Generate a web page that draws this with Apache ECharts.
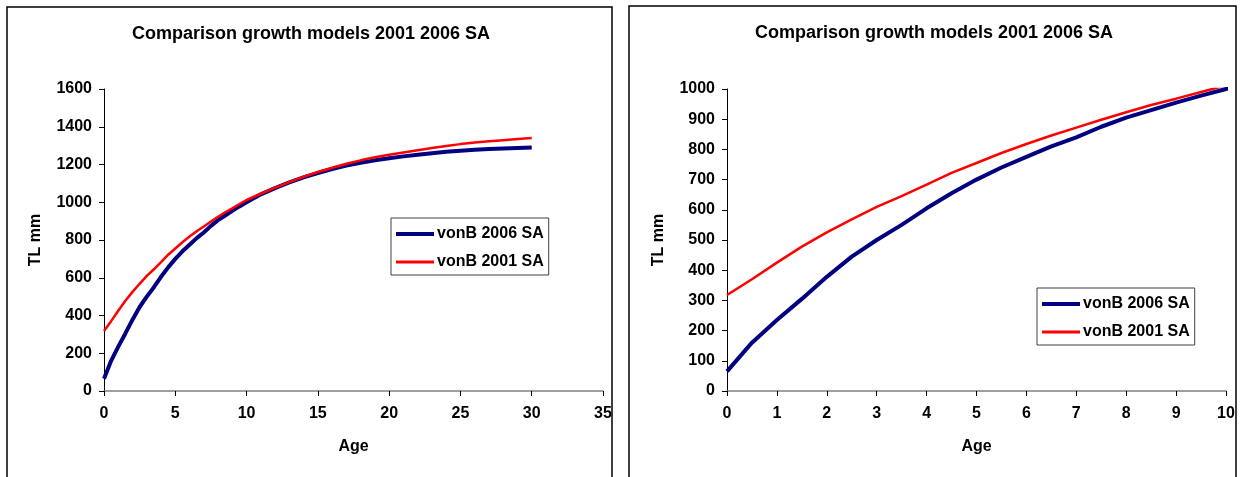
<!DOCTYPE html>
<html>
<head>
<meta charset="utf-8">
<script src="https://cdn.jsdelivr.net/npm/echarts@6/dist/echarts.min.js"></script>
<style>
html,body{margin:0;padding:0;background:#fff;}
#c{width:1242px;height:477px;}
</style>
</head>
<body>
<div id="c"></div>
<script>
var titleText = "Comparison growth models 2001 2006 SA";
var seriesNames = ["vonB 2006 SA", "vonB 2001 SA"];
var ages = [0,0.5,1,1.5,2,2.5,3,3.5,4,4.5,5,5.5,6,6.5,7,7.5,8,8.5,9,9.5,10,
  11,12,13,14,15,16,17,18,19,20,21,22,23,24,25,26,27,28,29,30];
var vonB2006 = [65,160,235,305,378,445,500,550,605,655,700,740,775,810,840,875,905,930,955,978,1000,
  1042,1075,1105,1132,1155,1176,1194,1209,1222,1233,1243,1252,1260,1267,1273,1278,1282,1285,1288,1290];
var vonB2001 = [318,370,425,478,525,568,610,645,683,722,755,788,818,846,872,898,923,947,968,990,1012,
  1045,1077,1107,1135,1160,1183,1204,1222,1238,1252,1264,1276,1287,1298,1308,1316,1323,1329,1335,1340];
var leftXTicks = {min:0, max:35, interval:5};
var leftYTicks = {min:0, max:1600, interval:200};
var rightXTicks = {min:0, max:10, interval:1};
var rightYTicks = {min:0, max:1000, interval:100};

function pairs(vals){ return ages.map(function(a,i){ return [a, vals[i]]; }); }

var FONT = "Liberation Sans, Arial, sans-serif";
var lbl = {fontFamily:FONT, fontWeight:'bold', fontSize:16, color:'#000'};
function plain(v){ return String(v); }

function xAxis(idx, t){
  return {gridIndex:idx, type:'value', min:t.min, max:t.max, interval:t.interval,
    name:'Age', nameLocation:'middle', nameGap:48, nameTextStyle:lbl,
    axisLine:{show:true, lineStyle:{color:'#808080', width:1.5}},
    axisTick:{show:true, inside:false, length:5, lineStyle:{color:'#000', width:1}},
    axisLabel:Object.assign({margin:15, formatter:plain}, lbl),
    splitLine:{show:false}};
}
function yAxis(idx, t){
  return {gridIndex:idx, type:'value', min:t.min, max:t.max, interval:t.interval,
    name:'TL mm', nameLocation:'middle', nameGap:60, nameRotate:90, nameTextStyle:lbl,
    axisLine:{show:true, lineStyle:{color:'#000', width:1}},
    axisTick:{show:true, inside:false, length:5, lineStyle:{color:'#000', width:1}},
    axisLabel:Object.assign({margin:12, formatter:plain}, lbl),
    splitLine:{show:false}};
}
function legend(left, top){
  return {orient:'vertical', left:left, top:top,
    data:[
      {name:seriesNames[0], icon:'path://M0 0H38V4.2H0Z'},
      {name:seriesNames[1], icon:'path://M0 0H38V2.8H0Z'}
    ],
    backgroundColor:'#fff', borderColor:'#404040', borderWidth:1,
    padding:[8,5,5,5], itemGap:12, itemWidth:38, itemHeight:14,
    textStyle:{fontFamily:FONT, fontWeight:'bold', fontSize:16, color:'#000', padding:[0,0,0,-2]}};
}
function line(name, xi, vals, color, width){
  return {name:name, type:'line', xAxisIndex:xi, yAxisIndex:xi, data:pairs(vals),
    symbol:'none', showSymbol:false, clip:true, animation:false,
    lineStyle:{color:color, width:width}, itemStyle:{color:color}};
}

var chart = echarts.init(document.getElementById('c'), null, {renderer:'canvas'});
chart.setOption({
  backgroundColor:'#fff',
  animation:false,
  title:[
    {text:titleText, left:306, top:20, textAlign:'center',
      textStyle:{fontFamily:FONT, fontWeight:'bold', fontSize:18, color:'#000'}},
    {text:titleText, left:929, top:19, textAlign:'center',
      textStyle:{fontFamily:FONT, fontWeight:'bold', fontSize:18, color:'#000'}}
  ],
  grid:[
    {left:104, top:89, width:499, height:302},
    {left:727, top:89, width:499, height:302}
  ],
  xAxis:[xAxis(0, leftXTicks), xAxis(1, rightXTicks)],
  yAxis:[yAxis(0, leftYTicks), yAxis(1, rightYTicks)],
  legend:[legend(391, 218), legend(1037, 288)],
  series:[
    line(seriesNames[0], 0, vonB2006, '#000080', 4),
    line(seriesNames[1], 0, vonB2001, '#ff0000', 2.5),
    line(seriesNames[0], 1, vonB2006, '#000080', 4),
    line(seriesNames[1], 1, vonB2001, '#ff0000', 2.5)
  ],
  graphic:[
    {type:'rect', shape:{x:7, y:7, width:605, height:480}, style:{fill:null, stroke:'#000', lineWidth:1.5}, silent:true, z:-1},
    {type:'rect', shape:{x:629, y:6, width:607, height:480}, style:{fill:null, stroke:'#000', lineWidth:1.5}, silent:true, z:-1}
  ]
});
</script>
</body>
</html>
